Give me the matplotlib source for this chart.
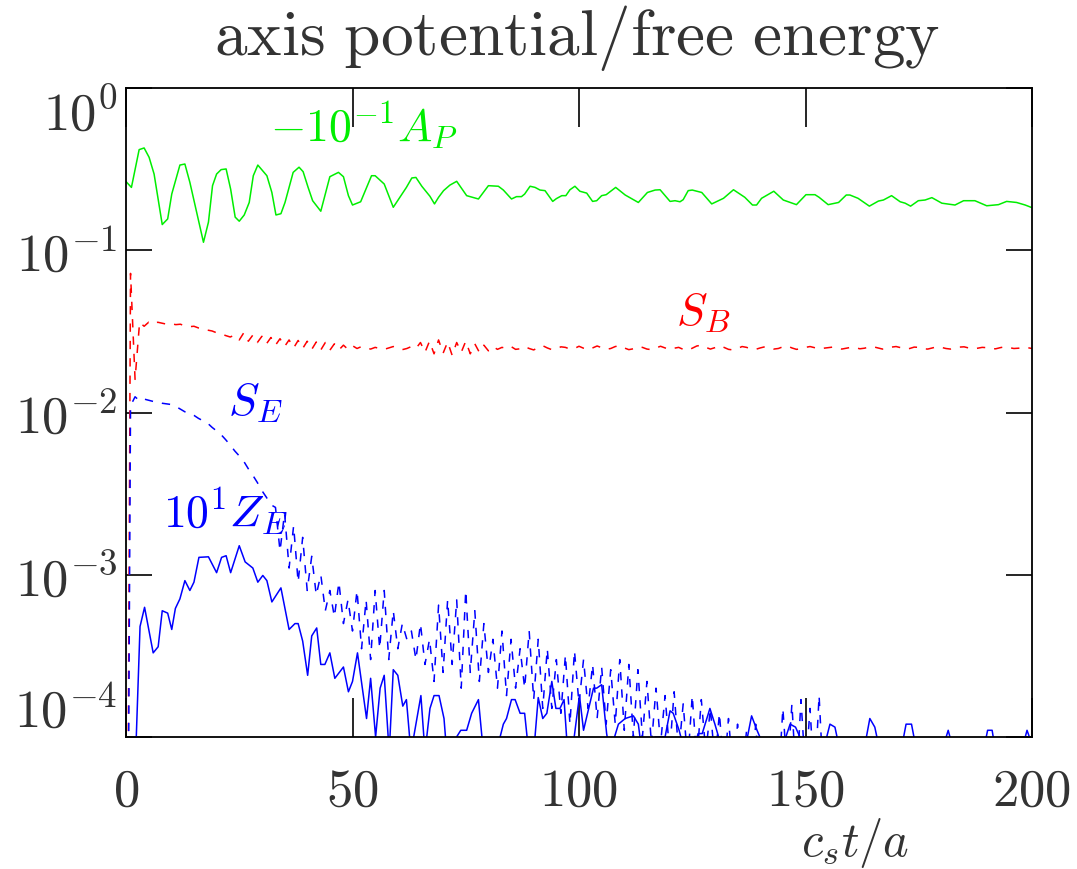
import numpy as np
import matplotlib
matplotlib.use("Agg")
import matplotlib.pyplot as plt

plt.rcParams['mathtext.fontset'] = 'cm'
plt.rcParams['font.family'] = ['DejaVu Serif']
plt.rcParams['lines.scale_dashes'] = False

# -10^-1 A_P  (axis potential, scaled)
t_ap = [0, 1.2, 2.9, 4.0, 5.1, 6.2, 8.0, 9.2, 10.1, 11.9,
        13.0, 14.1, 17.1, 18.2, 19.1, 20.0, 21.0, 22.1, 23.1, 24.1,
        25.0, 26.1, 27.2, 28.1, 29.1, 31.1, 32.2, 33.1, 34.2, 35.1,
        36.9, 38.2, 39.1, 40.2, 41.2, 43.0, 45.0, 46.9, 48.0, 49.1,
        50.0, 51.8, 54.2, 55.0, 57.0, 59.0, 61.9, 63.1, 64.0, 65.3,
        67.1, 68.1, 69.0, 70.1, 71.5, 73.0, 75.2, 77.8, 80.0, 82.2,
        83.3, 85.1, 86.2, 87.3, 88.0, 89.2, 90.3, 91.4, 92.5, 94.2,
        95.0, 96.2, 97.1, 98.0, 99.1, 100.2, 101.7, 103.0, 103.9, 105.0,
        106.0, 108.1, 110.2, 113.1, 115.1, 116.8, 117.9, 120.1, 121.2, 122.3,
        123.0, 124.1, 125.0, 127.1, 129.3, 131.9, 134.1, 136.6, 138.3, 139.2,
        140.3, 143.0, 145.1, 148.0, 150.1, 152.1, 153.0, 155.0, 157.3, 159.0,
        159.8, 161.6, 164.1, 166.1, 167.2, 169.0, 170.9, 172.0, 173.2, 174.9,
        176.4, 177.9, 180.1, 183.0, 184.9, 187.4, 190.0, 192.6, 194.4, 196.6,
        198.5, 200.0]
ap = [0.265, 0.244, 0.417, 0.427, 0.374, 0.295, 0.144, 0.156, 0.222, 0.335,
      0.340, 0.262, 0.112, 0.149, 0.250, 0.295, 0.314, 0.317, 0.238, 0.160,
      0.151, 0.165, 0.197, 0.288, 0.335, 0.288, 0.227, 0.165, 0.168, 0.197,
      0.302, 0.325, 0.305, 0.244, 0.202, 0.174, 0.284, 0.302, 0.284, 0.217,
      0.190, 0.199, 0.288, 0.288, 0.256, 0.184, 0.244, 0.279, 0.281, 0.248,
      0.215, 0.193, 0.212, 0.233, 0.252, 0.266, 0.217, 0.207, 0.250, 0.248,
      0.235, 0.207, 0.214, 0.214, 0.222, 0.248, 0.244, 0.235, 0.233, 0.200,
      0.208, 0.217, 0.217, 0.236, 0.248, 0.231, 0.225, 0.200, 0.202, 0.217,
      0.220, 0.244, 0.219, 0.197, 0.227, 0.235, 0.236, 0.200, 0.202, 0.199,
      0.205, 0.233, 0.235, 0.227, 0.193, 0.209, 0.236, 0.212, 0.190, 0.190,
      0.209, 0.231, 0.204, 0.191, 0.220, 0.220, 0.212, 0.191, 0.197, 0.219,
      0.219, 0.209, 0.187, 0.201, 0.204, 0.217, 0.199, 0.195, 0.187, 0.202,
      0.204, 0.211, 0.195, 0.190, 0.202, 0.202, 0.188, 0.191, 0.200, 0.197,
      0.190, 0.183]

# S_B, one sample per unit time from t = 0
s_b = [1e-7, 0.072, 0.016, 0.036, 0.034, 0.036, 0.035, 0.036, 0.0355, 0.035,
       0.0352, 0.0348, 0.035, 0.0342, 0.0338, 0.034, 0.0332, 0.0328, 0.0322, 0.0318,
       0.031, 0.0305, 0.0298, 0.0292, 0.030, 0.028, 0.031, 0.0275, 0.030, 0.027,
       0.0295, 0.0265, 0.029, 0.026, 0.0285, 0.0255, 0.028, 0.025, 0.0278, 0.0248,
       0.0275, 0.0245, 0.0272, 0.0243, 0.027, 0.0242, 0.0265, 0.0243, 0.026, 0.0245,
       0.0258, 0.0248, 0.0255, 0.025, 0.0246, 0.0252, 0.0248, 0.0245, 0.025, 0.0255,
       0.025, 0.0244, 0.0248, 0.0255, 0.0248, 0.027, 0.0235, 0.0275, 0.023, 0.028,
       0.0232, 0.0272, 0.0225, 0.027, 0.0235, 0.0275, 0.023, 0.0265, 0.0235, 0.026,
       0.024, 0.0255, 0.0245, 0.0252, 0.0248, 0.0255, 0.0245, 0.0247, 0.0255, 0.0248,
       0.0243, 0.0252, 0.0258, 0.025, 0.0244, 0.0246, 0.0254, 0.0252, 0.0246, 0.0248,
       0.0256, 0.0249, 0.0244, 0.025, 0.0257, 0.0251, 0.0245, 0.0248, 0.0255, 0.0258,
       0.025, 0.0244, 0.0247, 0.0254, 0.0252, 0.0246, 0.0244, 0.025, 0.0256, 0.025,
       0.0245, 0.0249, 0.0252, 0.0245, 0.0242, 0.0249, 0.0257, 0.026, 0.0252, 0.0246,
       0.0251, 0.0258, 0.0252, 0.0245, 0.0243, 0.0248, 0.0255, 0.0252, 0.0246, 0.0245,
       0.025, 0.0254, 0.0251, 0.0246, 0.0248, 0.0254, 0.0257, 0.025, 0.0245, 0.0247,
       0.0252, 0.0255, 0.0251, 0.0247, 0.0249, 0.0251, 0.0253, 0.0249, 0.0246, 0.0249,
       0.0252, 0.0251, 0.0247, 0.0249, 0.0253, 0.0254, 0.025, 0.0246, 0.0248, 0.0253,
       0.0255, 0.0251, 0.0246, 0.0248, 0.0253, 0.0252, 0.0247, 0.0246, 0.025, 0.0254,
       0.0252, 0.0248, 0.0246, 0.0249, 0.0253, 0.0254, 0.025, 0.0247, 0.0249, 0.0252,
       0.0251, 0.0247, 0.0247, 0.0251, 0.0254, 0.0251, 0.0248, 0.0249, 0.0252, 0.0251,
       0.0248]

# S_E, one sample per unit time from t = 0
s_e = [1e-7, 0.011, 0.0125, 0.0118, 0.0121, 0.0119, 0.0117, 0.0116, 0.0114, 0.0113,
       0.0112, 0.0109, 0.0105, 0.0101, 0.0099, 0.0096, 0.0092, 0.0089, 0.0086, 0.0081,
       0.0077, 0.0073, 0.0068, 0.0063, 0.0058, 0.0054, 0.0050, 0.0045, 0.0041, 0.0037,
       0.0033, 0.0030, 0.0027, 0.0026, 0.0014, 0.0024, 0.0011, 0.0020, 0.0009, 0.0017,
       0.0008, 0.0013, 0.00075, 0.0010, 0.0006, 0.0008, 0.00055, 0.0009, 0.0005, 0.0007,
       0.00045, 0.0008, 0.00035, 0.0007, 0.0003, 0.0008, 0.00035, 0.0008, 0.0003, 0.0006,
       0.00035, 0.0005, 0.0004, 0.00045, 0.0003, 0.0005, 0.00028, 0.0004, 0.00022, 0.00065,
       0.00025, 0.0007, 0.00028, 0.0007, 0.0002, 0.0008, 0.00025, 0.0006, 0.00022, 0.0005,
       0.00025, 0.0004, 0.0002, 0.00045, 0.00018, 0.0004, 0.0002, 0.00035, 0.0002, 0.00045,
       0.00017, 0.0004, 0.00015, 0.00035, 0.00015, 0.0003, 0.00014, 0.00032, 0.00012, 0.00034,
       0.00016, 0.0003, 0.00015, 0.00028, 0.00013, 0.00027, 0.00012, 0.00026, 0.00012, 0.0003,
       0.00011, 0.00028, 0.0001, 0.00026, 0.0001, 0.00022, 0.00009, 0.0002, 0.00009, 0.00018,
       0.00008, 0.00019, 0.00008, 0.00016, 0.00007, 0.00018, 0.00007, 0.00017, 0.00008, 0.00015,
       0.00007, 0.00014, 0.00006, 0.00013, 0.00006, 0.00012, 0.00006, 0.00011, 0.00005, 0.00012,
       0.00005, 0.0001, 0.00005, 0.00009, 0.00005, 0.00015, 0.00006, 0.00016, 0.00005, 0.00017,
       0.00006, 0.00015, 0.00005, 0.00018, 0.00005, 0.0001, 0.00004, 0.00008, 0.00004, 0.00006,
       0.00003]

# 10^1 Z_E
t_z = [0, 1, 2, 3.1, 4.1, 6.0, 7.1, 8.0, 9.2, 10.1, 10.9, 11.9, 13.0, 14.1, 15.0,
       16.1, 18.2, 20.0, 21.1, 22.1, 23.1, 25.0, 26.3, 28.0, 29.1, 30.2, 31.1, 32.2,
       34.2, 36.0, 37.3, 38.0, 39.0, 40.1, 41.0, 42.1, 43.0, 43.9, 45.0, 46.1, 48.0,
       49.1, 50.0, 51.1, 53.1, 54.0, 55.1, 56.1, 57.0, 58.1, 59.0, 60.0, 61.1, 61.9,
       62.9, 65.1, 66.0, 67.1, 68.0, 69.1, 70.2, 70.8, 73.9, 75.2, 76.3, 77.8, 78.9,
       81.7, 83.3, 84.0, 85.1, 85.9, 87.0, 88.0, 88.9, 90.0, 91.0, 92.0, 92.9, 94.0,
       94.9, 95.8, 96.7, 97.5, 98.5, 100.1, 101.0, 103.2, 103.9, 105.0, 106.1, 106.8,
       108.7, 110.2, 112.0, 113.1, 113.9, 115.5, 116.8, 119.0, 120.1, 120.8, 122.1,
       123.4, 125.0, 126.3, 127.2, 128.9, 130.0, 131.3, 133.2, 136.5, 138.1, 139.3,
       141.4, 144.5, 146.6, 147.8, 150.3, 153.8, 155.4, 156.5, 157.7, 162.8, 164.2,
       165.3, 166.5, 171.0, 172.2, 173.4, 174.6, 180.0, 181.5, 182.8, 189.2, 190.2,
       191.2, 192.0, 197.6, 198.9, 200.0]
z_e = [1e-7, 1e-6, 6e-5, 4.8e-4, 6.3e-4, 3.3e-4, 3.6e-4, 6.0e-4, 5.8e-4, 4.6e-4, 6.2e-4, 7.1e-4, 9.2e-4, 8.0e-4, 9.0e-4,
       1.28e-3, 1.29e-3, 1.03e-3, 1.28e-3, 1.31e-3, 1.03e-3, 1.51e-3, 1.2e-3, 1.1e-3, 9.0e-4, 9.9e-4, 9.2e-4, 6.8e-4,
       8.3e-4, 4.6e-4, 5.0e-4, 5.0e-4, 3.9e-4, 2.4e-4, 4.2e-4, 4.7e-4, 2.8e-4, 2.8e-4, 3.3e-4, 2.3e-4, 2.7e-4,
       1.9e-4, 2.2e-4, 3.3e-4, 1.3e-4, 2.3e-4, 1.0e-4, 2.0e-4, 2.4e-4, 8e-5, 2.6e-4, 2.4e-4, 1.55e-4, 1.7e-4,
       8e-5, 1.8e-4, 8e-5, 1.5e-4, 1.8e-4, 1.8e-4, 1.3e-4, 8e-5, 1.1e-4, 1.1e-4, 1.4e-4, 1.7e-4, 8e-5,
       8e-5, 1.2e-4, 1.3e-4, 1.7e-4, 1.7e-4, 1.4e-4, 1.4e-4, 8e-5, 8e-5, 1.75e-4, 1.3e-4, 1.4e-4, 2.2e-4,
       1.5e-4, 1.5e-4, 1.7e-4, 8e-5, 8e-5, 1.8e-4, 1.1e-4, 2.0e-4, 2.0e-4, 2.1e-4, 1.05e-4, 8e-5,
       1.2e-4, 1.3e-4, 1.35e-4, 1.2e-4, 8e-5, 8e-5, 1.0e-4, 1.0e-4, 1.45e-4, 1.4e-4, 1.1e-4,
       8e-5, 8e-5, 1.05e-4, 1.05e-4, 1.5e-4, 1.2e-4, 9e-5, 8e-5, 8e-5, 1.35e-4, 1.1e-4,
       8e-5, 8e-5, 1.2e-4, 1.15e-4, 8e-5, 8e-5, 1.2e-4, 1.15e-4, 8e-5, 8e-5, 1.3e-4,
       1.15e-4, 8e-5, 8e-5, 1.2e-4, 1.2e-4, 8e-5, 8e-5, 1.1e-4, 8e-5, 8e-5, 1.1e-4,
       1.1e-4, 8e-5, 8e-5, 1.1e-4, 9e-5]

x_ticks = [0, 50, 100, 150, 200]
y_ticks = [1e-4, 1e-3, 1e-2, 1e-1, 1e0]
y_ticklabels = [r'$10^{-4}$', r'$10^{-3}$', r'$10^{-2}$', r'$10^{-1}$', r'$10^{0}$']

green = '#00ee00'
fig = plt.figure(figsize=(10.77, 8.7), dpi=100)
ax = fig.add_axes([126 / 1077, 132 / 870, 906 / 1077, 649 / 870])

ax.plot(t_ap, ap, color=green, lw=1.1)
ax.plot(np.arange(len(s_b)), s_b, color='red', lw=1.1, dashes=(6, 6.5))
ax.plot(np.arange(len(s_e)), s_e, color='blue', lw=1.1, dashes=(6, 6.5))
ax.plot(t_z, z_e, color='blue', lw=1.1)

ax.set_yscale('log')
ax.set_xlim(0, 200)
ax.set_ylim(1e-4, 1)
ax.set_xticks(x_ticks, [r'$%d$' % v for v in x_ticks])
ax.set_yticks(y_ticks, y_ticklabels)
ax.minorticks_off()
ax.tick_params(axis='both', direction='in', top=True, right=True,
               width=1.2, labelsize=38, colors='black')
ax.tick_params(axis='x', length=28, pad=20)
ax.tick_params(axis='y', length=19, pad=6)
for lab in ax.get_xticklabels() + ax.get_yticklabels():
    lab.set_color('#333333')
ax.get_yticklabels()[-1].set_va('top')
ax.get_yticklabels()[0].set_va('bottom')
for sp in ax.spines.values():
    sp.set_linewidth(1.3)

# curve labels
ax.text(31.8, 0.59, r'$-10^{-1}A_P$', color=green, fontsize=33, va='center')
ax.text(121.4, 0.042, r'$S_B$', color='red', fontsize=33, va='center')
ax.text(22.5, 0.0116, r'$S_E$', color='blue', fontsize=33, va='center')
ax.text(8.2, 0.00247, r'$10^1Z_E$', color='blue', fontsize=33, va='center')

fig.text(577 / 1077, 1 - 38 / 870, r'$\mathrm{axis\ potential/free\ energy}$',
         fontsize=47, ha='center', va='center', color='#333333')
fig.text(855 / 1077, 14 / 870, r'$c_st/a$', fontsize=35, ha='center',
         va='baseline', color='#333333')

fig.savefig('out.png', dpi=100)
